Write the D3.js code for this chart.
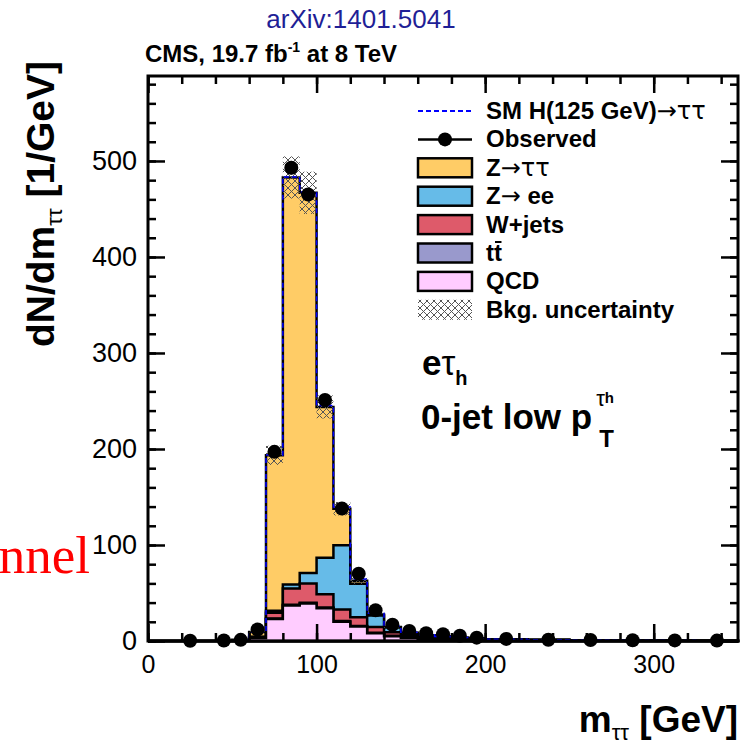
<!DOCTYPE html>
<html>
<head>
<meta charset="utf-8">
<script src="https://cdn.jsdelivr.net/npm/d3@7"></script>
<style>
body { margin: 0; background: #fff; }
svg { display: block; font-family: "Liberation Sans", Arial, sans-serif; }
</style>
</head>
<body>
<svg width="746" height="745"></svg>
<script>
// bin edges of the m_tautau histogram (GeV)
var binEdges = [0, 10, 20, 30, 40, 50, 60, 70, 80, 90, 100, 110, 120, 130, 140, 150,
    160, 170, 180, 190, 200, 225, 250, 275, 300, 325, 350];

// observed events / GeV (null = empty bin, not drawn)
var observed = [null, null, 0.3, null, 0.5, 1.2, 12, 197, 493, 465, 251, 138, 70, 32,
    17, 10.5, 8, 7, 5.5, 3.5, 2.2, 1.3, 1.0, 0.8, 0.6, 0.4];

// backgrounds, events / GeV
var qcd   = [0, 0, 0, 0, 0, 0.5, 3, 23, 37, 39, 34, 20, 15, 8, 5, 3.5, 2.5, 2, 1.5, 1.2, 0.8, 0.5, 0.3, 0.2, 0.15, 0.1];
var ttbar = [0, 0, 0, 0, 0, 0, 0.1, 0.4, 0.8, 0.8, 0.8, 0.8, 0.7, 0.6, 0.5, 0.4, 0.4, 0.3, 0.3, 0.3, 0.2, 0.15, 0.1, 0.1, 0.05, 0.05];
var wjets = [0, 0, 0, 0, 0, 0.2, 1, 6, 17, 20, 14, 12, 9, 6, 3.5, 2, 1.5, 1.2, 1, 0.8, 0.6, 0.4, 0.3, 0.2, 0.15, 0.1];
var zee   = [0, 0, 0, 0, 0, 0.1, 0.3, 2, 4, 11, 38, 67, 35, 12, 5, 2.5, 1.5, 1, 0.7, 0.5, 0.3, 0.2, 0.1, 0.1, 0.05, 0.05];
var ztt   = [0, 0, 0, 0, 0, 0.5, 5, 162, 424, 396, 157, 38, 3, 1, 0.6, 0.3, 0.2, 0.1, 0, 0, 0, 0, 0, 0, 0, 0];
var signal = [0, 0, 0, 0, 0, 0, 0, 0.3, 0.6, 1.0, 1.5, 1.8, 1.8, 1.4, 0.9, 0.5, 0.3, 0.2, 0.1, 0, 0, 0, 0, 0, 0, 0];
var bkgUnc = [0, 0, 0, 0, 0, 0.1, 0.5, 10, 22, 22, 12, 7, 3.5, 1.6, 0.8, 0.5, 0.3, 0.3, 0.2, 0.2, 0.1, 0.1, 0, 0, 0, 0];

var xTicksMajor = [0, 100, 200, 300];
var yTicksMajor = [0, 100, 200, 300, 400, 500];

var legendLabels = ["SM H(125 GeV)\u2192\u03c4\u03c4", "Observed", "Z\u2192\u03c4\u03c4", "Z\u2192 ee",
    "W+jets", "tt", "QCD", "Bkg. uncertainty"];
var legendColors = [null, null, "#ffcc66", "#66bbe8", "#de5a6a", "#9999cc", "#ffccff", null];

var margin = { top: 76, right: 8, bottom: 104, left: 148 },
    width = 746 - margin.left - margin.right,
    height = 745 - margin.top - margin.bottom;

var svg = d3.select("svg");

var defs = svg.append("defs");
var pat = defs.append("pattern")
    .attr("id", "hatch")
    .attr("patternUnits", "userSpaceOnUse")
    .attr("width", 7)
    .attr("height", 7);
pat.append("path")
    .attr("d", "M0,0L7,7M7,0L0,7")
    .attr("stroke", "#555")
    .attr("stroke-width", 1)
    .attr("fill", "none");

var g = svg.append("g")
    .attr("transform", "translate(" + margin.left + "," + margin.top + ")");

var x = d3.scaleLinear().domain([0, 350]).range([0, width]);
var y = d3.scaleLinear().domain([0, 588.5]).range([height, 0]);

// cumulative stack: QCD at bottom, Z->tautau on top
var layers = [qcd, ttbar, wjets, zee, ztt];
var cum = [];
var run = qcd.map(function () { return 0; });
layers.forEach(function (l) {
    run = run.map(function (v, i) { return v + l[i]; });
    cum.push(run);
});
var total = cum[cum.length - 1];

function stepPts(vals) {
    var pts = vals.map(function (v, i) { return [binEdges[i], v]; });
    pts.push([binEdges[vals.length], vals[vals.length - 1]]);
    return pts;
}

var area = d3.area()
    .curve(d3.curveStepAfter)
    .x(function (d) { return x(d[0]); })
    .y0(y(0))
    .y1(function (d) { return y(d[1]); });

var line = d3.line()
    .curve(d3.curveStepAfter)
    .x(function (d) { return x(d[0]); })
    .y(function (d) { return y(d[1]); });

for (var k = cum.length - 1; k >= 0; k--) {
    g.append("path")
        .datum(stepPts(cum[k]))
        .attr("fill", legendColors[2 + (cum.length - 1 - k)])
        .attr("stroke", "#000")
        .attr("stroke-width", 2.5)
        .attr("d", area);
}

// background uncertainty band
g.selectAll(".unc")
    .data(total.map(function (t, i) { return { i: i, t: t, u: bkgUnc[i] }; })
        .filter(function (d) { return d.u > 0; }))
    .enter().append("rect")
    .attr("class", "unc")
    .attr("x", function (d) { return x(binEdges[d.i]); })
    .attr("width", function (d) { return x(binEdges[d.i + 1]) - x(binEdges[d.i]); })
    .attr("y", function (d) { return y(d.t + d.u); })
    .attr("height", function (d) { return y(d.t - d.u) - y(d.t + d.u); })
    .attr("fill", "url(#hatch)");

// signal on top of background
g.append("path")
    .datum(stepPts(total.map(function (t, i) { return t + signal[i]; })))
    .attr("fill", "none")
    .attr("stroke", "#0000ff")
    .attr("stroke-width", 1.5)
    .attr("stroke-dasharray", "5,3")
    .attr("d", line);

// axes
function styleAxis(sel, size) {
    sel.select(".domain").remove();
    sel.selectAll(".tick line").attr("stroke", "#000").attr("stroke-width", 2.5);
    sel.selectAll("text")
        .attr("font-size", size)
        .attr("font-family", "Liberation Sans, Arial, sans-serif")
        .attr("fill", "#000");
}

var xMinor = d3.range(0, 351, 20);
var yMinor = d3.range(0, 581, 20);

g.append("g").attr("transform", "translate(0," + height + ")")
    .call(d3.axisBottom(x).tickValues(xMinor).tickSize(-8).tickFormat(""))
    .call(styleAxis, 0);
g.append("g").attr("transform", "translate(0," + height + ")")
    .call(d3.axisBottom(x).tickValues(xTicksMajor).tickSize(-17).tickPadding(14).tickFormat(d3.format("d")))
    .call(styleAxis, 25);
g.append("g")
    .call(d3.axisTop(x).tickValues(xMinor).tickSize(-8).tickFormat(""))
    .call(styleAxis, 0);
g.append("g")
    .call(d3.axisTop(x).tickValues(xTicksMajor).tickSize(-17).tickFormat(""))
    .call(styleAxis, 0);
g.append("g")
    .call(d3.axisLeft(y).tickValues(yMinor).tickSize(-8).tickFormat(""))
    .call(styleAxis, 0);
g.append("g")
    .call(d3.axisLeft(y).tickValues(yTicksMajor).tickSize(-17).tickPadding(11).tickFormat(d3.format("d")))
    .call(styleAxis, 27);
g.append("g").attr("transform", "translate(" + width + ",0)")
    .call(d3.axisRight(y).tickValues(yMinor).tickSize(-8).tickFormat(""))
    .call(styleAxis, 0);
g.append("g").attr("transform", "translate(" + width + ",0)")
    .call(d3.axisRight(y).tickValues(yTicksMajor).tickSize(-17).tickFormat(""))
    .call(styleAxis, 0);

// observed data
var obs = observed.map(function (v, i) { return { i: i, v: v }; })
    .filter(function (d) { return d.v !== null; });
var cx = function (d) { return x((binEdges[d.i] + binEdges[d.i + 1]) / 2); };
var err = function (d) {
    var w = binEdges[d.i + 1] - binEdges[d.i];
    return Math.sqrt(d.v * w) / w;
};
g.selectAll(".err").data(obs).enter().append("line")
    .attr("x1", cx).attr("x2", cx)
    .attr("y1", function (d) { return y(d.v + err(d)); })
    .attr("y2", function (d) { return y(Math.max(0, d.v - err(d))); })
    .attr("stroke", "#000").attr("stroke-width", 2);
g.selectAll(".dot").data(obs).enter().append("circle")
    .attr("cx", cx)
    .attr("cy", function (d) { return y(d.v); })
    .attr("r", 7)
    .attr("fill", "#000");

// frame
g.append("rect")
    .attr("width", width).attr("height", height)
    .attr("fill", "none").attr("stroke", "#000").attr("stroke-width", 3);

// rich text: greek letters and arrows in normal weight
function richText(sel, str) {
    var runs = [];
    str.split("").forEach(function (c) {
        var sym = /[\u03c4\u2192]/.test(c);
        if (runs.length && runs[runs.length - 1].sym === sym) runs[runs.length - 1].s += c;
        else runs.push({ sym: sym, s: c });
    });
    runs.forEach(function (r) {
        var ts = sel.append("tspan").attr("font-weight", r.sym ? "normal" : "bold").text(r.s);
        if (r.sym) ts.attr("font-family", "DejaVu Sans, sans-serif");
    });
}

// legend
var lx = 418, ly = 111, step = 28.4;
legendLabels.forEach(function (lab, i) {
    var yy = ly + i * step;
    if (i === 0) {
        svg.append("line").attr("x1", lx).attr("x2", lx + 54).attr("y1", yy).attr("y2", yy)
            .attr("stroke", "#0000ff").attr("stroke-width", 2).attr("stroke-dasharray", "5,3");
    } else if (i === 1) {
        svg.append("line").attr("x1", lx).attr("x2", lx + 54).attr("y1", yy).attr("y2", yy)
            .attr("stroke", "#000").attr("stroke-width", 2.5);
        svg.append("circle").attr("cx", lx + 27).attr("cy", yy).attr("r", 7).attr("fill", "#000");
    } else if (legendColors[i]) {
        svg.append("rect").attr("x", lx).attr("y", yy - 9.5).attr("width", 54).attr("height", 19)
            .attr("fill", legendColors[i]).attr("stroke", "#000").attr("stroke-width", 2.5);
    } else {
        svg.append("rect").attr("x", lx).attr("y", yy - 10).attr("width", 54).attr("height", 20)
            .attr("fill", "url(#hatch)");
    }
    var t = svg.append("text").attr("x", 486).attr("y", yy + 8).attr("font-size", 24);
    if (lab === "tt") {
        t.attr("font-weight", "bold").text(lab);
        var tw = t.node().getComputedTextLength();
        svg.append("line")
            .attr("x1", 486 + tw / 2 + 1).attr("x2", 486 + tw - 0.5)
            .attr("y1", yy - 11).attr("y2", yy - 11)
            .attr("stroke", "#000").attr("stroke-width", 2);
    } else {
        richText(t, lab);
    }
});

// titles
svg.append("text").attr("x", 361).attr("y", 28).attr("text-anchor", "middle")
    .attr("font-size", 26).attr("fill", "#1f1f96").text("arXiv:1401.5041");

var cms = svg.append("text").attr("x", 145).attr("y", 62).attr("font-size", 24).attr("font-weight", "bold");
cms.append("tspan").text("CMS, 19.7 fb");
cms.append("tspan").attr("font-size", 14).attr("dy", -10).text("-1");
cms.append("tspan").attr("dy", 10).text(" at 8 TeV");

// axis titles
var yl = svg.append("text").attr("transform", "translate(54,61) rotate(-90)")
    .attr("text-anchor", "end").attr("font-size", 39).attr("font-weight", "bold");
yl.append("tspan").text("dN/dm");
yl.append("tspan").attr("font-size", 22).attr("font-weight", "normal").attr("dy", 8).text("\u03c4\u03c4");
yl.append("tspan").attr("dy", -8).text(" [1/GeV]");

var xl = svg.append("text").attr("x", 738).attr("y", 732)
    .attr("text-anchor", "end").attr("font-size", 37).attr("font-weight", "bold");
xl.append("tspan").text("m");
xl.append("tspan").attr("font-size", 22).attr("font-weight", "normal").attr("dy", 8).text("\u03c4\u03c4");
xl.append("tspan").attr("dy", -8).text(" [GeV]");

// category labels
var c1 = svg.append("text").attr("x", 422).attr("y", 375).attr("font-size", 35).attr("font-weight", "bold");
c1.append("tspan").text("e");
c1.append("tspan").attr("font-weight", "normal").text("\u03c4");
c1.append("tspan").attr("font-size", 20).attr("font-weight", "bold").attr("dy", 10).text("h");

var c2 = svg.append("text").attr("x", 421).attr("y", 429).attr("font-size", 35).attr("font-weight", "bold")
    .text("0-jet low p");
var pEnd = 421 + c2.node().getComputedTextLength();
var sup = svg.append("text").attr("x", pEnd + 4).attr("y", 406).attr("font-size", 22);
sup.append("tspan").text("\u03c4");
sup.append("tspan").attr("font-size", 15).attr("font-weight", "bold").attr("dy", -3).text("h");
svg.append("text").attr("x", pEnd + 7).attr("y", 447).attr("font-size", 24).attr("font-weight", "bold").text("T");

// clipped red serif word at the left edge
svg.append("text").attr("x", 90).attr("y", 573).attr("text-anchor", "end")
    .attr("font-family", "Liberation Serif, serif").attr("font-size", 53).attr("fill", "#ff0000")
    .text("channel");
</script>
</body>
</html>
